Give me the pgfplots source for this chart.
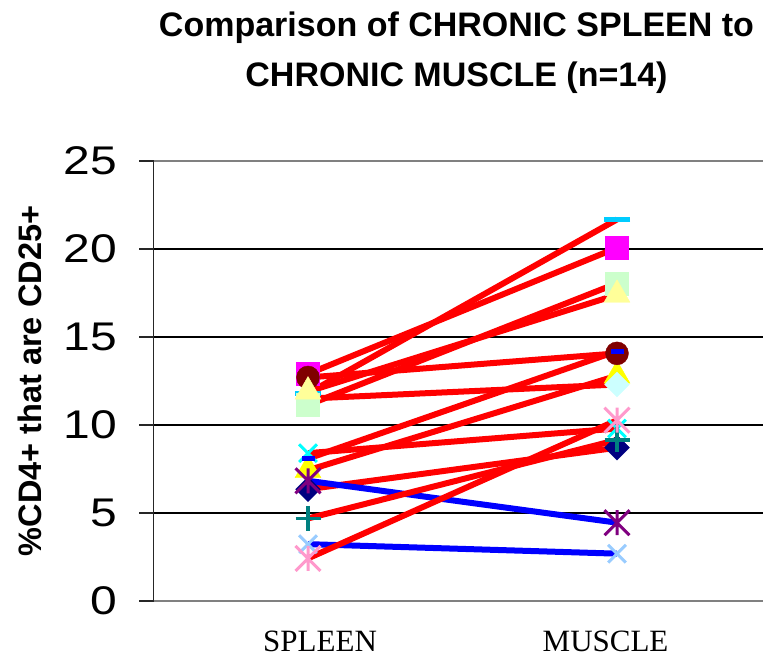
\documentclass[border=0pt]{standalone}
\usepackage{fontspec}
\usepackage{pgfplots}
\pgfplotsset{compat=1.18}
\setmainfont{Liberation Sans}
\newfontfamily\catfont{Liberation Serif}

% marker colours, one per animal
\definecolor{cNavy}{HTML}{000080}
\definecolor{cMagenta}{HTML}{FF00FF}
\definecolor{cYellow}{HTML}{FFFF00}
\definecolor{cCyan}{HTML}{00FFFF}
\definecolor{cPurple}{HTML}{800080}
\definecolor{cMaroon}{HTML}{800000}
\definecolor{cTeal}{HTML}{008080}
\definecolor{cBlue}{HTML}{0000FF}
\definecolor{cSky}{HTML}{00CCFF}
\definecolor{cLtCyan}{HTML}{CCFFFF}
\definecolor{cLtGreen}{HTML}{CCFFCC}
\definecolor{cLtYellow}{HTML}{FFFF99}
\definecolor{cLtBlue}{HTML}{99CCFF}
\definecolor{cPink}{HTML}{FF99CC}
\definecolor{upRed}{HTML}{FF0000}
\definecolor{downBlue}{HTML}{0000FF}

% spreadsheet-style star: a cross with a vertical bar
\pgfdeclareplotmark{xlstar}{%
  \pgfpathmoveto{\pgfqpoint{-\pgfplotmarksize}{-\pgfplotmarksize}}%
  \pgfpathlineto{\pgfqpoint{\pgfplotmarksize}{\pgfplotmarksize}}%
  \pgfpathmoveto{\pgfqpoint{-\pgfplotmarksize}{\pgfplotmarksize}}%
  \pgfpathlineto{\pgfqpoint{\pgfplotmarksize}{-\pgfplotmarksize}}%
  \pgfpathmoveto{\pgfqpoint{0pt}{-\pgfplotmarksize}}%
  \pgfpathlineto{\pgfqpoint{0pt}{\pgfplotmarksize}}%
  \pgfusepathqstroke}

\pgfplotsset{
  up/.style={color=upRed, line width=6pt, mark=none},
  down/.style={color=downBlue, line width=6pt, mark=none},
  mdiamond/.style={only marks, mark=square*, mark size=8.8pt, mark options={rotate=45, draw=#1, fill=#1, line width=0.4pt}},
  msquare/.style={only marks, mark=square*, mark size=11.5pt, mark options={draw=#1, fill=#1, line width=0.4pt}},
  mtri/.style={only marks, mark=triangle*, mark size=15pt, mark options={draw=#1, fill=#1, line width=0.4pt}},
  mcircle/.style={only marks, mark=*, mark size=11.5pt, mark options={draw=#1, fill=#1, line width=0.4pt}},
  mx/.style={only marks, mark=x, mark size=12.5pt, mark options={draw=#1, line width=3pt}},
  mstar/.style={only marks, mark=xlstar, mark size=12.5pt, mark options={draw=#1, line width=3pt}},
  mplus/.style={only marks, mark=+, mark size=12.5pt, mark options={draw=#1, line width=3.5pt}},
  mshort/.style={only marks, mark=-, mark size=6.5pt, mark options={draw=#1, line width=5pt}},
  mlong/.style={only marks, mark=-, mark size=13pt, mark options={draw=#1, line width=5pt}},
}

\begin{document}
\begin{tikzpicture}
\useasboundingbox (0,0) rectangle (763pt,658pt);
\clip (0,0) rectangle (763pt,658pt);
\begin{axis}[
  at={(153.5pt,57pt)}, anchor=south west,
  scale only axis, width=618pt, height=440pt,
  xmin=0.5, xmax=2.5, ymin=0, ymax=25,
  ytick={5,10,15,20},
  extra y ticks={0,25}, extra y tick style={grid=none},
  xtick={1.039,1.963}, xticklabels={SPLEEN,MUSCLE},
  ytick pos=left,
  tick align=outside, major tick length=14pt,
  xtick style={draw=none},
  ytick style={color=black!85, line width=1.2pt},
  ymajorgrids, grid style={black, line width=1.2pt},
  axis line style={draw=none},
  /pgf/number format/assume math mode=true,
  yticklabel style={font=\fontsize{40}{40}\selectfont, anchor=east, inner sep=0pt, xshift=-22pt, xscale=1.2},
  xticklabel style={font=\catfont\fontsize{31}{31}\selectfont, anchor=base, inner sep=0pt, yshift=-37pt},
  ylabel={\%CD4+ that are CD25+},
  ylabel style={font=\bfseries\fontsize{32.5}{32.5}\selectfont, at={(axis description cs:-0.1998,0.5)}, anchor=center, inner sep=0pt},
  clip=false,
]
% connecting lines: red where the value rises, blue where it falls
\addplot[up]   coordinates {(1,6.35) (2,8.71)};
\addplot[up]   coordinates {(1,12.9) (2,20.07)};
\addplot[up]   coordinates {(1,7.43) (2,12.8)};
\addplot[up]   coordinates {(1,8.4) (2,9.8)};
\addplot[down] coordinates {(1,6.83) (2,4.45)};
\addplot[up]   coordinates {(1,12.7) (2,14.07)};
\addplot[up]   coordinates {(1,4.69) (2,9.15)};
\addplot[up]   coordinates {(1,8.09) (2,14.2)};
\addplot[up]   coordinates {(1,11.8) (2,21.68)};
\addplot[up]   coordinates {(1,11.5) (2,12.3)};
\addplot[up]   coordinates {(1,11.14) (2,18.05)};
\addplot[up]   coordinates {(1,11.9) (2,17.4)};
\addplot[down] coordinates {(1,3.23) (2,2.69)};
\addplot[up]   coordinates {(1,2.42) (2,10.27)};
% markers
\addplot[mdiamond=cNavy]    coordinates {(1,6.35) (2,8.71)};
\addplot[msquare=cMagenta]  coordinates {(1,12.9) (2,20.07)};
\addplot[mtri=cYellow]      coordinates {(1,7.43) (2,12.8)};
\addplot[mx=cCyan]          coordinates {(1,8.4) (2,9.8)};
\addplot[mstar=cPurple]     coordinates {(1,6.83) (2,4.45)};
\addplot[mcircle=cMaroon]   coordinates {(1,12.7) (2,14.07)};
\addplot[mplus=cTeal]       coordinates {(1,4.69) (2,9.15)};
\addplot[mshort=cBlue]      coordinates {(1,8.09) (2,14.2)};
\addplot[mlong=cSky]        coordinates {(1,11.8) (2,21.68)};
\addplot[mdiamond=cLtCyan]  coordinates {(1,11.5) (2,12.3)};
\addplot[msquare=cLtGreen]  coordinates {(1,11.14) (2,18.05)};
\addplot[mtri=cLtYellow]    coordinates {(1,11.9) (2,17.4)};
\addplot[mx=cLtBlue]        coordinates {(1,3.23) (2,2.69)};
\addplot[mstar=cPink]       coordinates {(1,2.42) (2,10.27)};
% plot-area frame: grey top and bottom, dark left axis
\draw[black!50, line width=2.5pt] (rel axis cs:0,0) -- (rel axis cs:1,0);
\draw[black!50, line width=2.5pt] (rel axis cs:0,1) -- (rel axis cs:1,1);
\draw[black!85, line width=1.5pt] (rel axis cs:0,0) -- (rel axis cs:0,1);
\end{axis}
\node[anchor=base, font=\bfseries\fontsize{34}{34}\selectfont, inner sep=0pt] at (456.5pt,621pt) {Comparison of CHRONIC SPLEEN to};
\node[anchor=base, font=\bfseries\fontsize{34}{34}\selectfont, inner sep=0pt] at (456.5pt,571pt) {CHRONIC MUSCLE (n=14)};
\end{tikzpicture}
\end{document}
